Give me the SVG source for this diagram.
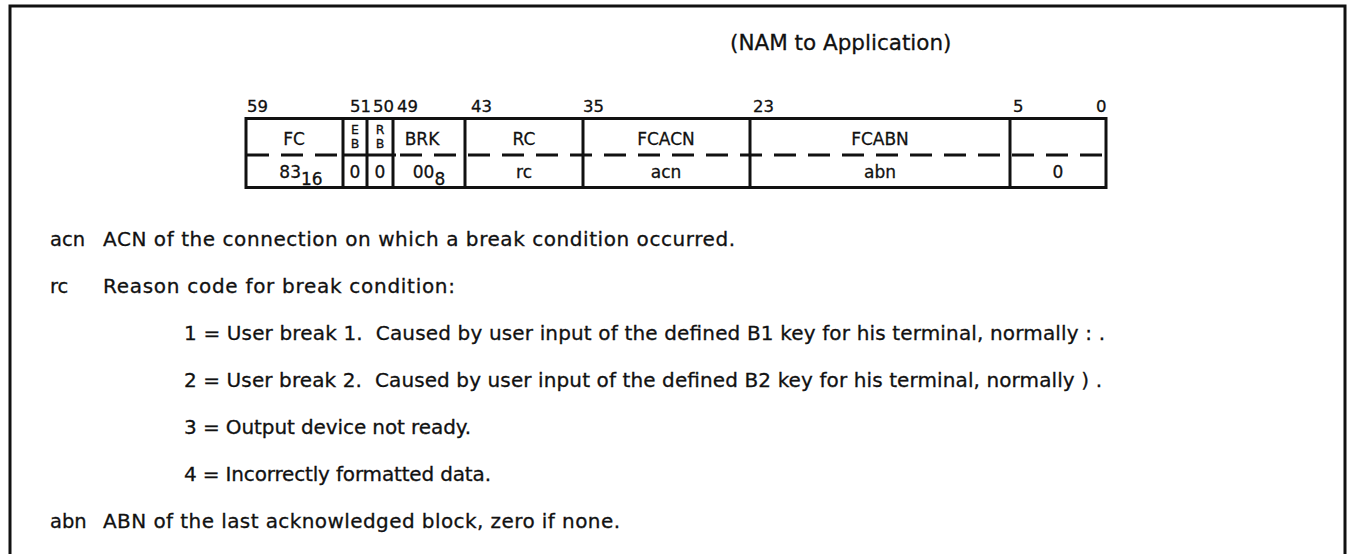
<svg xmlns="http://www.w3.org/2000/svg" width="1350" height="554" viewBox="0 0 1350 554">
<style>
text{font-family:"DejaVu Sans","Liberation Sans",Arial,sans-serif;fill:#111;stroke:#111;stroke-width:0.3;white-space:pre;}
.t{font-size:20px;}
.lb{font-size:19.5px;}
.h{font-size:21.5px;}
.n{font-size:16.5px;}
.f{font-size:17px;text-anchor:middle;}
.s{font-size:12.5px;text-anchor:middle;}
.ln{stroke:#111;stroke-width:3;fill:none;}
.dash{stroke:#111;stroke-width:3;fill:none;stroke-dasharray:22 12;}
</style>
<rect x="0" y="0" width="1350" height="554" fill="#fff"/>
<path class="ln" d="M10,570 V6 H1345 V570"/>
<text class="h" x="730" y="50">(NAM to Application)</text>
<g id="bits">
<text class="n" x="247" y="112">59</text>
<text class="n" x="350" y="112">51</text>
<text class="n" x="373" y="112">50</text>
<text class="n" x="397" y="112">49</text>
<text class="n" x="471" y="112">43</text>
<text class="n" x="583" y="112">35</text>
<text class="n" x="753" y="112">23</text>
<text class="n" x="1013" y="112">5</text>
<text class="n" x="1096" y="112">0</text>
</g>
<g id="table">
<rect class="ln" x="246" y="118.5" width="860" height="69"/>
<path class="ln" d="M343,118.5 V187.5 M367,118.5 V187.5 M393,118.5 V187.5 M465,118.5 V187.5 M583,118.5 V187.5 M750,118.5 V187.5 M1010,118.5 V187.5"/>
<path class="ln" d="M343,155 H396"/>
<path class="dash" d="M247,155 H343"/>
<path class="dash" d="M400,155 H1106"/>
</g>
<g id="field-fc"><text class="f" x="294" y="145">FC</text><text class="f" x="301" y="178">83<tspan dy="7">16</tspan></text></g>
<g id="field-eb"><text class="s" x="355" y="134">E</text><text class="s" x="355" y="148">B</text><text class="f" x="355" y="178">0</text></g>
<g id="field-rb"><text class="s" x="380" y="134">R</text><text class="s" x="380" y="148">B</text><text class="f" x="380" y="178">0</text></g>
<g id="field-brk"><text class="f" x="422" y="145">BRK</text><text class="f" x="429" y="178">00<tspan dy="7">8</tspan></text></g>
<g id="field-rc"><text class="f" x="524" y="145">RC</text><text class="f" x="524" y="178">rc</text></g>
<g id="field-fcacn"><text class="f" x="666" y="145">FCACN</text><text class="f" x="666" y="178">acn</text></g>
<g id="field-fcabn"><text class="f" x="880" y="145">FCABN</text><text class="f" x="880" y="178">abn</text></g>
<g id="field-0"><text class="f" x="1058" y="178">0</text></g>
<g id="desc">
<text class="lb" x="50" y="246">acn</text>
<text class="t" x="103" y="246" textLength="632" lengthAdjust="spacing">ACN of the connection on which a break condition occurred.</text>
<text class="lb" x="50" y="293">rc</text>
<text class="t" x="103" y="293" textLength="352" lengthAdjust="spacing">Reason code for break condition:</text>
<text class="t" x="184" y="340" textLength="921" lengthAdjust="spacing">1 = User break 1.  Caused by user input of the defined B1 key for his terminal, normally : .</text>
<text class="t" x="184" y="387" textLength="918" lengthAdjust="spacing">2 = User break 2.  Caused by user input of the defined B2 key for his terminal, normally ) .</text>
<text class="t" x="184" y="434" textLength="287" lengthAdjust="spacing">3 = Output device not ready.</text>
<text class="t" x="184" y="481" textLength="307" lengthAdjust="spacing">4 = Incorrectly formatted data.</text>
<text class="lb" x="50" y="528">abn</text>
<text class="t" x="103" y="528" textLength="517" lengthAdjust="spacing">ABN of the last acknowledged block, zero if none.</text>
</g>
</svg>
